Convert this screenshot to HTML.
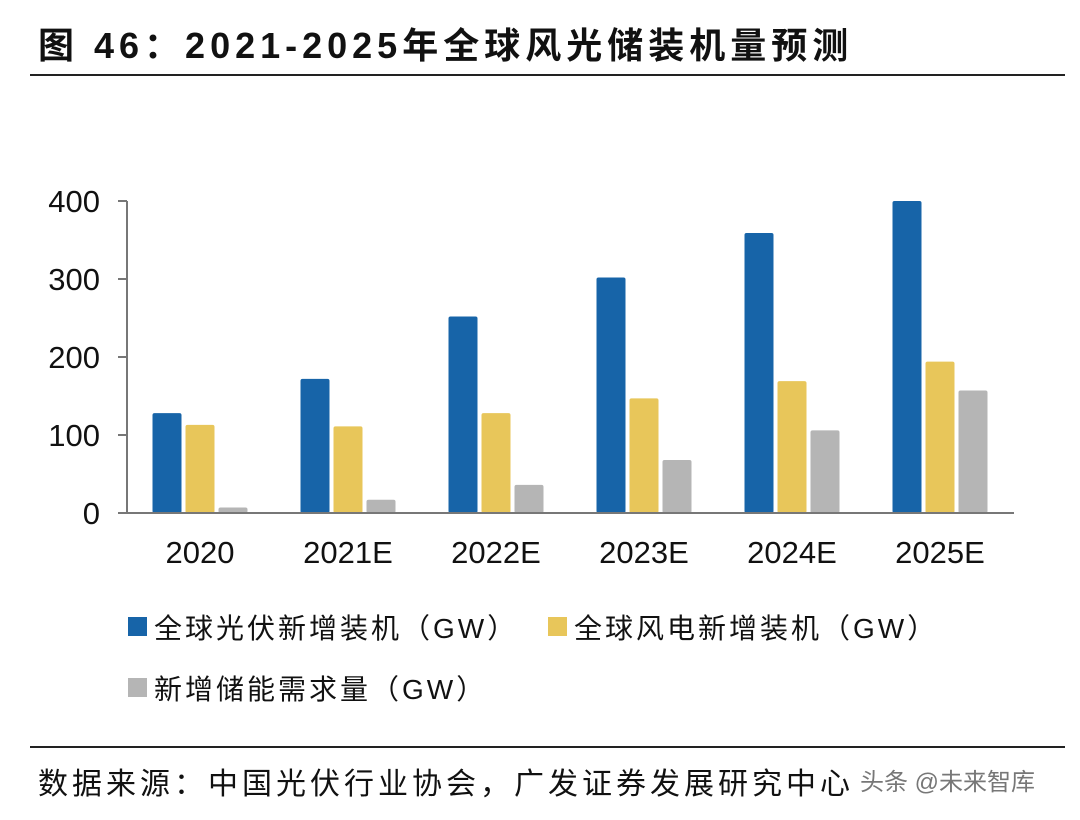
<!DOCTYPE html>
<html><head><meta charset="utf-8"><style>
body{margin:0;width:1080px;height:815px;background:#fff;overflow:hidden;font-family:"Liberation Sans","Noto Sans CJK SC",sans-serif;}
</style></head><body>
<svg width="1080" height="815" xmlns="http://www.w3.org/2000/svg">
<text x="38" y="58" font-size="36" font-weight="bold" letter-spacing="5" fill="#111" font-family="Liberation Sans,Noto Sans CJK SC,sans-serif">图 46：2021-2025年全球风光储装机量预测</text>
<rect x="30" y="74" width="1035" height="2" fill="#222"/>
<g id="plot"></g>
<g font-size="28" letter-spacing="3" fill="#111" font-family="Liberation Sans,Noto Sans CJK SC,sans-serif">
<rect x="128" y="617" width="19" height="19" fill="#1764a8"/>
<text x="154" y="638">全球光伏新增装机（GW）</text>
<rect x="548" y="617" width="19" height="19" fill="#e8c65a"/>
<text x="574" y="638">全球风电新增装机（GW）</text>
<rect x="128" y="678" width="19" height="19" fill="#b5b5b5"/>
<text x="154" y="699">新增储能需求量（GW）</text>
</g>
<rect x="30" y="746" width="1035" height="2" fill="#222"/>
<text x="38" y="794" font-size="30" letter-spacing="4" fill="#111" font-family="Liberation Sans,Noto Sans CJK SC,sans-serif">数据来源：中国光伏行业协会，广发证券发展研究中心</text>
<text x="860" y="790" font-size="24" fill="#777" font-family="Liberation Sans,Noto Sans CJK SC,sans-serif">头条 @未来智库</text>
</svg>
<script>
const categories=["2020","2021E","2022E","2023E","2024E","2025E"];
const solar=[128,172,252,302,359,400];
const wind=[113,111,128,147,169,194];
const storage=[7,17,36,68,106,157];
const yTicks=[0,100,200,300,400];
const NS="http://www.w3.org/2000/svg";
const g=document.getElementById("plot");
const left=126,band=148,y0=513,yTop=201,yMax=400;
const y=v=>y0-(y0-yTop)*v/yMax;
const xc=i=>left+band*(i+0.5);
function mk(t,a){const e=document.createElementNS(NS,t);for(const k in a)e.setAttribute(k,a[k]);g.appendChild(e);return e;}
const series=[[solar,"#1764a8","solar"],[wind,"#e8c65a","wind"],[storage,"#b5b5b5","storage"]];
const bw=29,gap=4;
categories.forEach((c,i)=>{
  series.forEach((s,j)=>{
    const x=xc(i)+(j-1)*(bw+gap)-bw/2;
    const r=mk("rect",{x:x,y:y(s[0][i]),width:bw,height:y0-y(s[0][i]),fill:s[1],rx:2});
    
    
  });
  const t=mk("text",{x:xc(i),y:563,"text-anchor":"middle","font-size":31,fill:"#111"});
  t.textContent=c;
  
  
});
yTicks.forEach(v=>{
  const l=mk("line",{x1:118,x2:127,y1:y(v),y2:y(v),stroke:"#777","stroke-width":2});
  
  
  const t=mk("text",{x:100,y:y(v)+11,"text-anchor":"end","font-size":31,fill:"#111"});
  t.textContent=v;
  
  
});
const ax=mk("line",{x1:127,x2:127,y1:y(yMax),y2:y0,stroke:"#777","stroke-width":2});


const bx=mk("line",{x1:118,x2:left+band*categories.length,y1:y0,y2:y0,stroke:"#777","stroke-width":2});


</script>
</body></html>
